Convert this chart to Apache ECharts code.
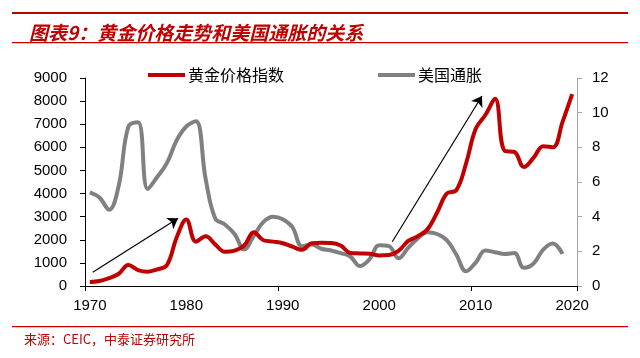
<!DOCTYPE html>
<html>
<head>
<meta charset="utf-8">
<script src="https://cdn.jsdelivr.net/npm/echarts@6/dist/echarts.min.js"></script>
<style>html,body{margin:0;padding:0;background:#fff}#c{width:640px;height:358px}</style>
</head>
<body>
<div id="c"></div>
<script>
const years = ['1970','1971','1972','1973','1974','1975','1976','1977','1978','1979',
  '1980','1981','1982','1983','1984','1985','1986','1987','1988','1989',
  '1990','1991','1992','1993','1994','1995','1996','1997','1998','1999',
  '2000','2001','2002','2003','2004','2005','2006','2007','2008','2009',
  '2010','2011','2012','2013','2014','2015','2016','2017','2018','2019','2020'];
const goldIndex = [175,215,340,530,910,690,620,720,910,2100,
  2880,1920,2150,1800,1480,1530,1750,2330,1980,1920,
  1850,1700,1570,1850,1870,1860,1750,1430,1410,1400,
  1320,1340,1520,1950,2150,2450,3180,4000,4150,5300,
  6800,7400,8100,5850,5800,5150,5550,6050,6000,7100,8300];
const usInflation = [5.4,5.1,4.4,5.8,9.2,9.45,5.6,6.3,7.1,8.4,
  9.2,9.5,6.2,3.9,3.55,3.0,2.1,2.9,3.7,4.0,
  3.85,3.4,2.3,2.4,2.15,2.05,1.9,1.7,1.15,1.55,
  2.35,2.3,1.6,2.2,2.75,3.1,3.0,2.65,1.8,0.85,
  1.35,2.05,1.95,1.85,1.9,1.05,1.3,2.1,2.45,1.85,null];
const arrowStarts = [[1970.3, 590], [2001.35, 1917]];
const arrowEnds = [[1979.15, 2930], [2010.65, 8220]];
const leftTicks = {min: 0, max: 9000, interval: 1000};
const rightTicks = {min: 0, max: 12, interval: 2};
const seriesNames = ['黄金价格指数', '美国通胀'];
const titleText = '图表9：黄金价格走势和美国通胀的关系';
const sourceText = '来源：CEIC，中泰证券研究所';

const chart = echarts.init(document.getElementById('c'), null, {renderer: 'canvas'});
const axisFont = {fontFamily: 'Liberation Sans, Arial, sans-serif', fontSize: 15, color: '#000'};
const cjk = '"Noto Sans CJK SC", sans-serif';
chart.setOption({
  animation: false,
  backgroundColor: '#fff',
  title: {
    text: titleText, left: 24, top: 18,
    textStyle: {color: '#c00000', fontSize: 19, fontWeight: 'bold', fontStyle: 'italic', fontFamily: cjk}
  },
  graphic: [
    {type: 'rect', shape: {x: 12, y: 12, width: 616, height: 2}, style: {fill: '#c00000'}},
    {type: 'rect', shape: {x: 12, y: 42, width: 616, height: 1.3}, style: {fill: '#c00000'}},
    {type: 'rect', shape: {x: 12, y: 326, width: 616, height: 1.3}, style: {fill: '#c00000'}},
    {type: 'text', left: 24, top: 333, style: {text: sourceText, fill: '#c00000', font: '13px ' + cjk}}
  ],
  legend: [
    {data: [seriesNames[0]], left: 143, top: 62, icon: 'rect', itemWidth: 37, itemHeight: 4, itemGap: 0,
     textStyle: {fontSize: 16, color: '#000', fontFamily: cjk, padding: [0,0,0,-2]}},
    {data: [seriesNames[1]], left: 373, top: 62, icon: 'rect', itemWidth: 37, itemHeight: 4, itemGap: 0,
     textStyle: {fontSize: 16, color: '#000', fontFamily: cjk, padding: [0,0,0,-2]}}
  ],
  grid: {left: 85, right: 63, top: 78, bottom: 72, containLabel: false},
  xAxis: [
    {type: 'category', data: years, boundaryGap: true,
     axisLine: {lineStyle: {color: '#000', width: 1}},
     axisTick: {show: true, interval: 19, length: 5, lineStyle: {color: '#000'}},
     axisLabel: Object.assign({interval: 9, margin: 12}, axisFont),
     splitLine: {show: false}},
    {type: 'value', min: 1969.5, max: 2020.5, show: false}
  ],
  yAxis: [
    {type: 'value', min: leftTicks.min, max: leftTicks.max, interval: leftTicks.interval,
     axisLine: {show: true, lineStyle: {color: '#000'}},
     axisTick: {show: true, length: 5, lineStyle: {color: '#000'}},
     axisLabel: Object.assign({margin: 18, formatter: v => String(v)}, axisFont),
     splitLine: {show: false}},
    {type: 'value', min: rightTicks.min, max: rightTicks.max, interval: rightTicks.interval, position: 'right',
     axisLine: {show: true, lineStyle: {color: '#a6a6a6'}},
     axisTick: {show: true, length: 5, lineStyle: {color: '#a6a6a6'}},
     axisLabel: Object.assign({margin: 15, formatter: v => String(v)}, axisFont),
     splitLine: {show: false}}
  ],
  series: [
    {name: seriesNames[1], type: 'line', data: usInflation, xAxisIndex: 0, yAxisIndex: 1,
     smooth: 0.4, showSymbol: false, symbol: 'none', connectNulls: false,
     lineStyle: {color: '#808080', width: 4}, itemStyle: {color: '#808080'}, z: 2},
    {name: seriesNames[0], type: 'line', data: goldIndex, xAxisIndex: 0, yAxisIndex: 0,
     smooth: 0.4, showSymbol: false, symbol: 'none',
     lineStyle: {color: '#c00000', width: 4}, itemStyle: {color: '#c00000'}, z: 3},
    {type: 'lines', coordinateSystem: 'cartesian2d', xAxisIndex: 1, yAxisIndex: 0,
     symbol: ['none', 'arrow'], symbolSize: 10,
     lineStyle: {color: '#000', width: 1.2, opacity: 1},
     data: arrowStarts.map((s, i) => ({coords: [s, arrowEnds[i]]})), z: 4}
  ]
});
</script>
</body>
</html>
